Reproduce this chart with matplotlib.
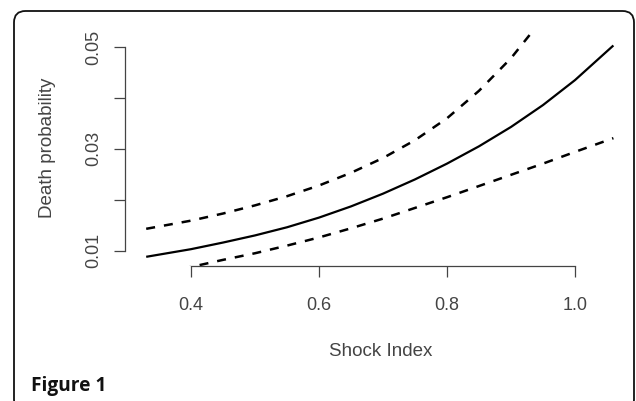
import matplotlib
matplotlib.use("Agg")
import matplotlib.pyplot as plt
from matplotlib.patches import FancyBboxPatch

# Data
si_mid = [0.33, 0.40, 0.45, 0.50, 0.55, 0.60, 0.65, 0.70, 0.75, 0.80, 0.85, 0.90, 0.95, 1.00, 1.06]
p_mid = [0.0088, 0.0103, 0.0116, 0.0130, 0.0146, 0.0165, 0.0187, 0.0212, 0.0240, 0.0271, 0.0305, 0.0343, 0.0386, 0.0435, 0.0503]

si_up = [0.33, 0.40, 0.45, 0.50, 0.55, 0.60, 0.65, 0.70, 0.75, 0.80, 0.85, 0.90, 0.93]
p_up = [0.0143, 0.0159, 0.0173, 0.0189, 0.0207, 0.0228, 0.0253, 0.0282, 0.0317, 0.0360, 0.0414, 0.0478, 0.0525]

si_lo = [0.33, 0.40, 0.45, 0.50, 0.55, 0.60, 0.65, 0.70, 0.75, 0.80, 0.85, 0.90, 0.95, 1.00, 1.06]
p_lo = [0.0056, 0.0068, 0.0082, 0.0095, 0.0110, 0.0126, 0.0144, 0.0163, 0.0184, 0.0205, 0.0227, 0.0249, 0.0271, 0.0294, 0.0321]

x_ticks = [0.4, 0.6, 0.8, 1.0]
x_tick_labels = ["0.4", "0.6", "0.8", "1.0"]
y_ticks = [0.01, 0.02, 0.03, 0.04, 0.05]
y_tick_labels = ["0.01", "", "0.03", "", "0.05"]

W, H = 636, 401
fig = plt.figure(figsize=(W / 100, H / 100), dpi=100)
fig.patch.set_facecolor("white")

# rounded frame (bottom edge runs off the image)
frame = FancyBboxPatch((14 / W, -10 / H), (634 - 14) / W, (H + 10 - 11) / H,
                       boxstyle="round,pad=0,rounding_size=0.018",
                       transform=fig.transFigure, fill=False,
                       edgecolor="#111111", linewidth=1.3, clip_on=False,
                       mutation_aspect=W / H)
fig.patches.append(frame)

left, right, bottom, top = 125, 633, 266, 34
ax = fig.add_axes([left / W, (H - bottom) / H, (right - left) / W, (bottom - top) / H])

ax.plot(si_mid, p_mid, color="black", lw=1.6, solid_capstyle="butt")
ax.plot(si_up, p_up, color="black", lw=1.8, linestyle=(0, (3.6, 3.6)))
ax.plot(si_lo, p_lo, color="black", lw=1.8, linestyle=(0, (3.6, 3.6)))

# y scale: 0.01 at px 250.7, 0.05 at px 47
ppu_y = (250.7 - 47) / 0.04
y_bot = 0.01 - (bottom - 250.7) / ppu_y
y_top = 0.05 + (47 - top) / ppu_y
ppu_x = 128 / 0.2
x_left = 0.4 - (191 - left) / ppu_x
x_right = 0.4 + (right - 191) / ppu_x
ax.set_xlim(x_left, x_right)
ax.set_ylim(y_bot, y_top)

for s in ["top", "right"]:
    ax.spines[s].set_visible(False)
axis_col = "#444444"
ax.spines["left"].set_bounds(0.01, 0.05)
ax.spines["bottom"].set_bounds(0.4, 1.0)
for s in ["left", "bottom"]:
    ax.spines[s].set_color(axis_col)
    ax.spines[s].set_linewidth(0.9)

ax.set_xticks(x_ticks)
ax.set_xticklabels(x_tick_labels)
ax.set_yticks(y_ticks)
ax.set_yticklabels(y_tick_labels, rotation=90, va="center")
ax.tick_params(axis="both", direction="out", length=8, width=0.9, color=axis_col,
               labelcolor="#444444", labelsize=13)
ax.tick_params(axis="x", pad=14.5)
ax.tick_params(axis="y", pad=8.5)
for lab in ax.get_xticklabels() + ax.get_yticklabels():
    lab.set_family("Liberation Sans")

fig.text(381 / W, (H - 351) / H, "Shock Index", ha="center", va="center",
         fontsize=13.5, color="#444444", family="Liberation Sans")
fig.text(47 / W, (H - 148) / H, "Death probability", ha="center", va="center",
         rotation=90, fontsize=13.5, color="#444444", family="Liberation Sans")
fig.text(31 / W, (H - 386) / H, "Figure 1", ha="left", va="center",
         fontsize=13.8, fontweight="bold", color="#111111", family="Open Sans")

fig.savefig("out.png", dpi=100, facecolor="white")
